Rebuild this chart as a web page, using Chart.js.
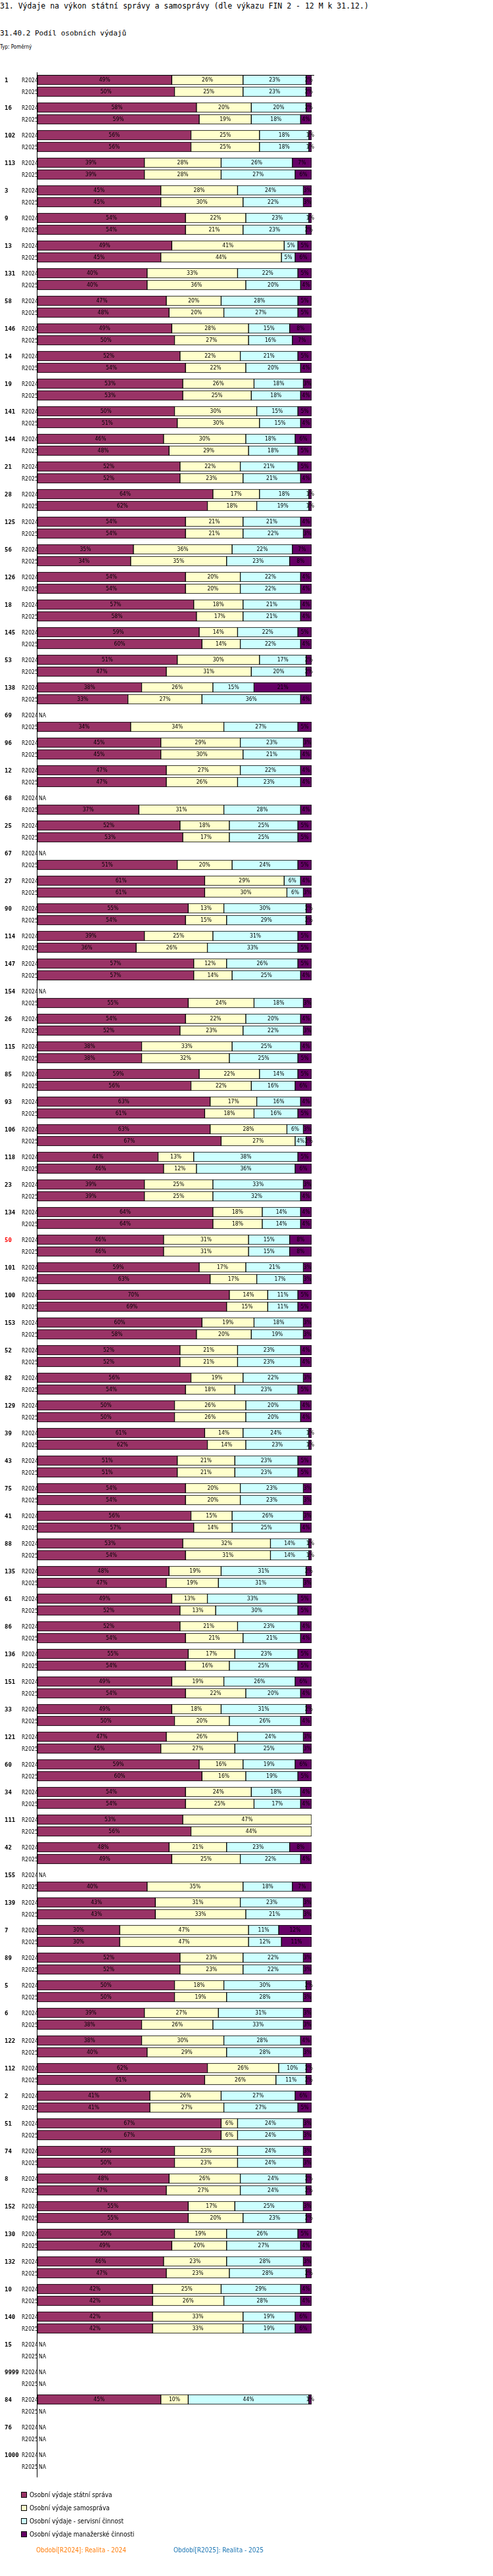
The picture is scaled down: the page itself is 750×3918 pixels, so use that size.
<!DOCTYPE html>
<html>
<head>
<meta charset="utf-8">
<script src="https://cdn.jsdelivr.net/npm/chart.js@4.4.1/dist/chart.umd.min.js"></script>
<style>
  body { margin: 0; background: #fff; width: 750px; height: 3918px; position: relative; font-family: "DejaVu Sans Mono", monospace; }
  .t { position: absolute; white-space: nowrap; color: #000; }
  #chart { position: absolute; left: 0; top: 0; }
  .lg { position: absolute; left: 32px; font-family: "DejaVu Sans Condensed", sans-serif; font-size: 10px; }
  .lg i { display: inline-block; width: 7px; height: 7px; border: 1px solid #000; margin-right: 4px; vertical-align: -1px; }
</style>
</head>
<body>
<div class="t" style="left:0;top:2px;font-size:11.5px">31. Výdaje na výkon státní správy a samosprávy (dle výkazu FIN 2 - 12 M k 31.12.)</div>
<div class="t" style="left:0;top:44px;font-size:11px">31.40.2 Podíl osobních výdajů</div>
<div class="t" style="left:0;top:67px;font-size:8px;font-family:'DejaVu Sans Condensed',sans-serif">Typ: Poměrný</div>
<canvas id="chart" width="750" height="3918"></canvas>
<div class="lg" style="top:3789px"><i style="background:#993366"></i>Osobní výdaje státní správa</div>
<div class="lg" style="top:3809px"><i style="background:#ffffcc"></i>Osobní výdaje samospráva</div>
<div class="lg" style="top:3829px"><i style="background:#ccffff"></i>Osobní výdaje - servisní činnost</div>
<div class="lg" style="top:3849px"><i style="background:#660066"></i>Osobní výdaje manažerské činnosti</div>
<div class="t" style="left:55px;top:3873px;font-size:10px;color:#ff7f0e;font-family:'DejaVu Sans Condensed',sans-serif">Období[R2024]: Realita - 2024</div>
<div class="t" style="left:264px;top:3873px;font-size:10px;color:#1f77b4;font-family:'DejaVu Sans Condensed',sans-serif">Období[R2025]: Realita - 2025</div>
<script>
const categories = ['1','16','102','113','3','9','13','131','58','146','14','19','141','144','21','28','125','56','126','18','145','53','138','69','96','12','68','25','67','27','90','114','147','154','26','115','85','93','106','118','23','134','50','101','100','153','52','82','129','39','43','75','41','88','135','61','86','136','151','33','121','60','34','111','42','155','139','7','89','5','6','122','112','2','51','74','8','152','130','132','10','140','15','9999','84','76','1000'];
const highlighted = ['50'];
const periods = ['R2024', 'R2025'];

// null = NA
const statni2024 = [49,58,56,39,45,54,49,40,47,49,52,53,50,46,52,64,54,35,54,57,59,51,38,null,45,47,null,52,null,61,55,39,57,null,54,38,59,63,63,44,39,64,46,59,70,60,52,56,50,61,51,54,56,53,48,49,52,55,49,49,47,59,54,53,48,null,43,30,52,50,39,38,62,41,67,50,48,55,50,46,42,42,null,null,45,null,null];
const samo2024   = [26,20,25,28,28,22,41,33,20,28,22,26,30,30,22,17,21,36,20,18,14,30,26,null,29,27,null,18,null,29,13,25,12,null,22,33,22,17,28,13,25,18,31,17,14,19,21,19,26,14,21,20,15,32,19,13,21,17,19,18,26,16,24,47,21,null,31,47,23,18,27,30,26,26,6,23,26,17,19,23,25,33,null,null,10,null,null];
const servis2024 = [23,20,18,26,24,23,5,22,28,15,21,18,15,18,21,18,21,22,22,21,22,17,15,null,23,22,null,25,null,6,30,31,26,null,20,25,14,16,6,38,33,14,15,21,11,18,23,22,20,24,23,23,26,14,31,33,23,23,26,31,24,19,18,0,23,null,23,11,22,30,31,28,10,27,24,24,24,25,26,28,29,19,null,null,44,null,null];
const manazer2024 = [2,2,1,7,3,1,5,5,5,8,5,3,5,6,5,1,4,7,4,4,5,2,21,null,3,4,null,5,null,4,2,5,5,null,4,4,5,4,3,5,3,4,8,3,5,3,4,3,4,1,5,3,3,1,2,5,4,5,6,2,3,6,4,0,8,null,3,12,3,2,3,4,2,6,3,3,2,3,5,3,4,6,null,null,1,null,null];
const statni2025 = [50,59,56,39,45,54,45,40,48,50,54,53,51,48,52,62,54,34,54,58,60,47,33,34,45,47,37,53,51,61,54,36,57,55,52,38,56,61,67,46,39,64,46,63,69,58,52,54,50,62,51,54,57,54,47,52,54,54,54,50,45,60,54,56,49,40,43,30,52,50,38,40,61,41,67,50,47,55,49,47,42,42,null,null,null,null,null];
const samo2025   = [25,19,25,28,30,21,44,36,20,27,22,25,30,29,23,18,21,35,20,17,14,31,27,34,30,26,31,17,20,30,15,26,14,24,23,32,22,18,27,12,25,18,31,17,15,20,21,18,26,14,21,20,14,31,19,13,21,16,22,20,27,16,25,44,25,35,33,47,23,19,26,29,26,27,6,23,27,20,20,23,26,33,null,null,null,null,null];
const servis2025 = [23,18,18,27,22,23,5,20,27,16,20,18,15,18,21,19,22,23,22,21,22,20,36,27,21,23,28,25,24,6,29,33,25,18,22,25,16,16,4,36,32,14,15,17,11,19,23,23,20,23,23,23,25,14,31,30,21,25,20,26,25,19,17,0,22,18,21,12,22,28,33,28,11,27,24,24,24,23,27,28,28,19,null,null,null,null,null];
const manazer2025 = [2,4,1,6,3,2,6,4,5,7,4,4,4,5,4,1,3,8,4,4,4,2,4,5,4,4,4,5,5,3,2,5,4,3,3,5,6,5,2,6,4,4,8,3,5,3,4,5,4,1,5,3,4,1,3,5,4,5,4,4,3,5,4,0,4,7,3,11,3,3,3,3,2,5,3,3,2,2,4,2,4,6,null,null,null,null,null];

const seriesNames = ['Osobní výdaje státní správa', 'Osobní výdaje samospráva', 'Osobní výdaje - servisní činnost', 'Osobní výdaje manažerské činnosti'];
const seriesColors = ['#993366', '#ffffcc', '#ccffff', '#660066'];

// each group = 7 units of 6px, second bar 3 units below the first
const GROUP = 7, ROW = 3;
function points(a2024, a2025) {
  const out = [];
  categories.forEach((c, i) => {
    out.push({ y: i * GROUP, x: a2024[i] });
    out.push({ y: i * GROUP + ROW, x: a2025[i] });
  });
  return out;
}
const seriesData = [
  points(statni2024, statni2025),
  points(samo2024, samo2025),
  points(servis2024, servis2025),
  points(manazer2024, manazer2025)
];

const labelsPlugin = {
  id: 'rowLabels',
  afterDatasetsDraw(chart) {
    const { ctx, chartArea: a, scales: { x, y } } = chart;
    ctx.save();
    // axis lines
    ctx.strokeStyle = '#000';
    ctx.lineWidth = 1;
    ctx.beginPath();
    ctx.moveTo(a.left - 0.5, a.top); ctx.lineTo(a.left - 0.5, a.bottom);
    ctx.moveTo(a.left, a.top + 4.5); ctx.lineTo(a.right + 4, a.top + 4.5);
    ctx.stroke();
    ctx.textBaseline = 'middle';
    categories.forEach((c, i) => {
      const y0 = y.getPixelForValue(i * GROUP);
      ctx.font = 'bold 9px "DejaVu Sans Mono", monospace';
      ctx.fillStyle = highlighted.includes(c) ? '#ff0000' : '#000';
      ctx.textAlign = 'left';
      ctx.fillText(c, 7, y0 + 1);
      ctx.font = '8.5px "DejaVu Sans Condensed", sans-serif';
      ctx.fillStyle = '#000';
      periods.forEach((p, r) => {
        const yy = y.getPixelForValue(i * GROUP + r * ROW) + 1;
        ctx.textAlign = 'left';
        ctx.fillText(p, 33, yy);
        if (seriesData[0][i * 2 + r].x === null) ctx.fillText('NA', 59, yy);
      });
    });
    // value labels
    ctx.font = '8.5px "DejaVu Sans Condensed", sans-serif';
    ctx.textAlign = 'center';
    ctx.fillStyle = '#000';
    chart.data.datasets.forEach((ds, di) => {
      chart.getDatasetMeta(di).data.forEach((bar, j) => {
        const v = ds.data[j].x;
        if (v === null || v === 0) return;
        const left = Math.min(bar.x, bar.base), right = Math.max(bar.x, bar.base);
        ctx.fillText(v + '%', (left + right) / 2, bar.y);
      });
    });
    ctx.restore();
  }
};

new Chart(document.getElementById('chart'), {
  type: 'bar',
  data: {
    datasets: seriesNames.map((n, k) => ({
      label: n,
      data: seriesData[k],
      backgroundColor: seriesColors[k],
      borderColor: '#000',
      borderWidth: 1,
      borderSkipped: false,
      barThickness: 15
    }))
  },
  options: {
    indexAxis: 'y',
    responsive: false,
    animation: false,
    layout: { padding: { top: 110, bottom: 150, left: 57, right: 276 } },
    scales: {
      x: { type: 'linear', stacked: true, min: 0, max: 100, display: false },
      y: { type: 'linear', stacked: true, reverse: true, offset: false, grace: 0, bounds: 'ticks',
           min: -1.92, max: (categories.length - 1) * GROUP + ROW + 2.75, display: false,
           grid: { offset: false } }
    },
    plugins: { legend: { display: false }, tooltip: { enabled: false } }
  },
  plugins: [labelsPlugin]
});
</script>
</body>
</html>
